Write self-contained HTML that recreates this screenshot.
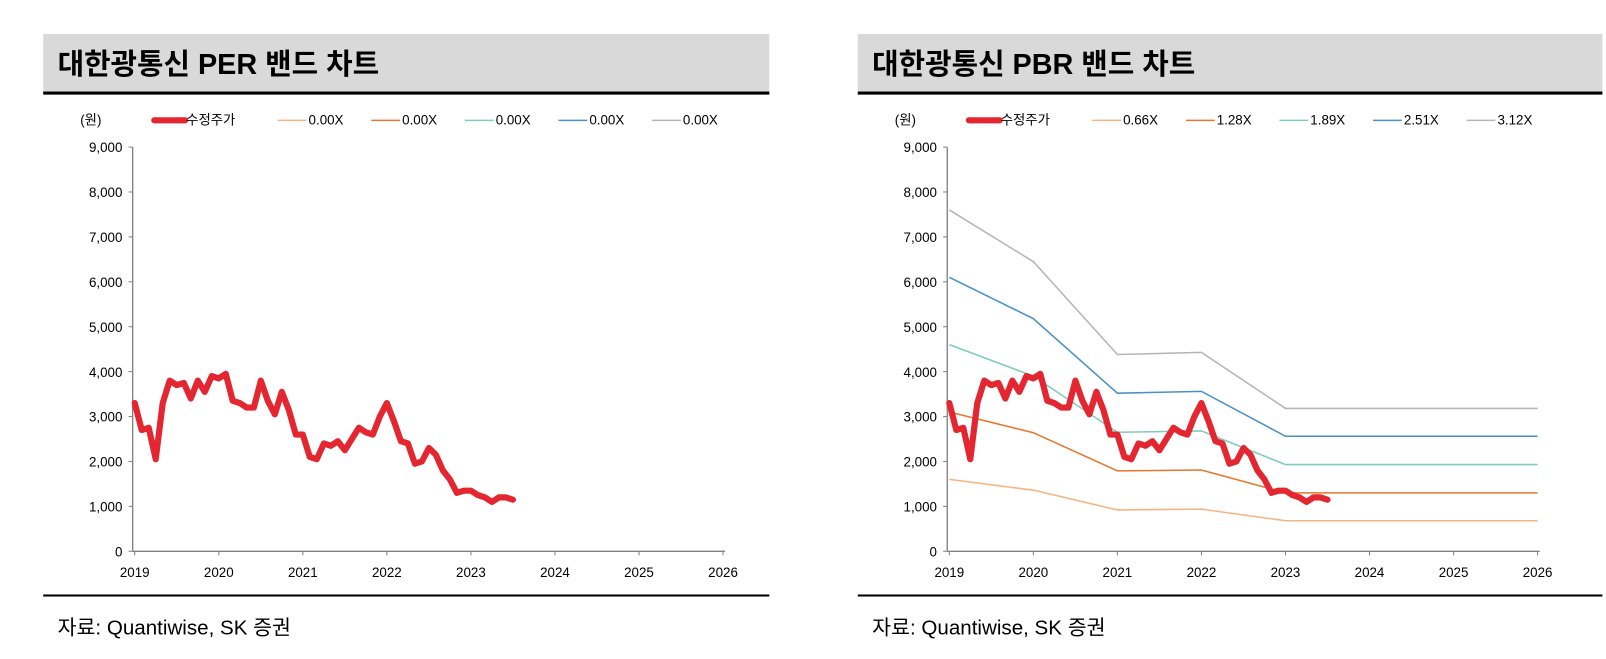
<!DOCTYPE html>
<html><head><meta charset="utf-8">
<style>
html,body{margin:0;padding:0;background:#fff;}
body{width:1606px;height:654px;overflow:hidden;font-family:"Liberation Sans","Noto Sans CJK KR",sans-serif;}
svg text{font-family:"Liberation Sans","Noto Sans CJK KR",sans-serif;}
</style></head>
<body>
<svg width="1606" height="654" xmlns="http://www.w3.org/2000/svg"><g id="root" transform="scale(1.0285)"></g></svg>
<script>
const years=[2019,2020,2021,2022,2023,2024,2025,2026];
const yTicks=[0,1000,2000,3000,4000,5000,6000,7000,8000,9000];
const priceStart=2019;
const price=[3300,2700,2750,2050,3300,3800,3700,3750,3400,3800,3550,3900,3850,3950,3350,3300,3200,3200,3800,3350,3050,3550,3150,2600,2600,2100,2050,2400,2350,2450,2250,2500,2750,2650,2600,3000,3300,2900,2450,2400,1950,2000,2300,2150,1800,1600,1300,1350,1350,1250,1200,1100,1200,1200,1150];
const bandYears=[2019,2020,2021,2022,2023,2026];
const band066=[1600,1360,920,940,680,680];
const band128=[3100,2640,1790,1810,1300,1300];
const band189=[4600,3900,2650,2680,1930,1930];
const band251=[6100,5180,3520,3560,2560,2560];
const band312=[7600,6450,4380,4430,3180,3180];
const perLabels=["0.00X","0.00X","0.00X","0.00X","0.00X"];
const pbrLabels=["0.66X","1.28X","1.89X","2.51X","3.12X"];
const colors=["#f5b583","#e8762c","#7fcdbb","#4a90c8","#b5b5b5"];

const NS="http://www.w3.org/2000/svg";
const root=document.getElementById('root');
function mk(tag,attrs,parent,txt){const e=document.createElementNS(NS,tag);for(const k in attrs)e.setAttribute(k,attrs[k]);if(txt!==undefined)e.textContent=txt;(parent||root).appendChild(e);return e;}

function panel(ox,bw,title,labels,bands,pname){
  const g=mk('g',{});
  
  
  const bar=mk('rect',{x:ox+42,y:33,width:bw,height:57,fill:'#d9d9d9'},g);
  
  
  const bl=mk('rect',{x:ox+42,y:89,width:bw,height:3,fill:'#000'},g);
  
  
  const t=mk('text',{x:ox+56,y:72,'font-size':28,'font-weight':'bold',fill:'#000'},g,title);
  
  
  const fl=mk('rect',{x:ox+42,y:578,width:bw,height:2,fill:'#000'},g);
  
  
  const ft=mk('text',{x:ox+56,y:617,'font-size':20,fill:'#000'},g,'자료: Quantiwise, SK 증권');
  
  

  const x0=ox+129, y0=536, yTop=143, xL=ox+131, xR=ox+703;
  const xs=v=>xL+(v-2019)/(2026-2019)*(xR-xL);
  const ys=v=>y0-(v/9000)*(y0-yTop);
  const unit=mk('text',{x:ox+78,y:121,'font-size':13,fill:'#000'},g,'(원)');
  
  
  const ya=mk('line',{x1:x0,y1:yTop,x2:x0,y2:y0,stroke:'#808080','stroke-width':1.3},g);
  
  
  const xa=mk('line',{x1:x0,y1:y0,x2:xR+2,y2:y0,stroke:'#808080','stroke-width':1.3},g);
  
  
  yTicks.forEach(v=>{
    const y=ys(v);
    mk('line',{x1:x0-4,y1:y,x2:x0,y2:y,stroke:'#808080'},g);
    const tl=mk('text',{x:x0-10,y:y+5,'font-size':13,'text-anchor':'end',fill:'#000'},g,v.toLocaleString('en-US'));
    
    
  });
  years.forEach(v=>{
    const x=xs(v);
    mk('line',{x1:x,y1:y0,x2:x,y2:y0+4,stroke:'#808080'},g);
    const tl=mk('text',{x:x,y:y0+25,'font-size':13,'text-anchor':'middle',fill:'#000'},g,String(v));
    
    
  });
  const lg=mk('line',{x1:ox+150,y1:117,x2:ox+180,y2:117,stroke:'#e3262f','stroke-width':6,'stroke-linecap':'round'},g);
  
  
  const lt=mk('text',{x:ox+181,y:121,'font-size':13,fill:'#000'},g,'수정주가');
  
  
  labels.forEach((lab,i)=>{
    const lx=ox+270+i*91;
    const sw=mk('line',{x1:lx,y1:117,x2:lx+28,y2:117,stroke:colors[i],'stroke-width':1.5},g);
    
    
    const tx=mk('text',{x:lx+30,y:121,'font-size':13,fill:'#000'},g,lab);
    
    
  });
  if(bands){
    bands.forEach((b,i)=>{
      const pts=b.map((v,j)=>xs(bandYears[j]).toFixed(1)+','+ys(v).toFixed(1)).join(' ');
      const pl=mk('polyline',{points:pts,fill:'none',stroke:colors[i],'stroke-width':1.5},g);
      
      
    });
  }
  const pts=price.map((v,j)=>xs(priceStart+j/12).toFixed(1)+','+ys(v).toFixed(1)).join(' ');
  const pl=mk('polyline',{points:pts,fill:'none',stroke:'#e3262f','stroke-width':6,'stroke-linejoin':'round','stroke-linecap':'round'},g);
  
  
}
panel(0,706,'대한광통신 PER 밴드 차트',perLabels,null,'per');
panel(792,724,'대한광통신 PBR 밴드 차트',pbrLabels,[band066,band128,band189,band251,band312],'pbr');
</script>
</body></html>
